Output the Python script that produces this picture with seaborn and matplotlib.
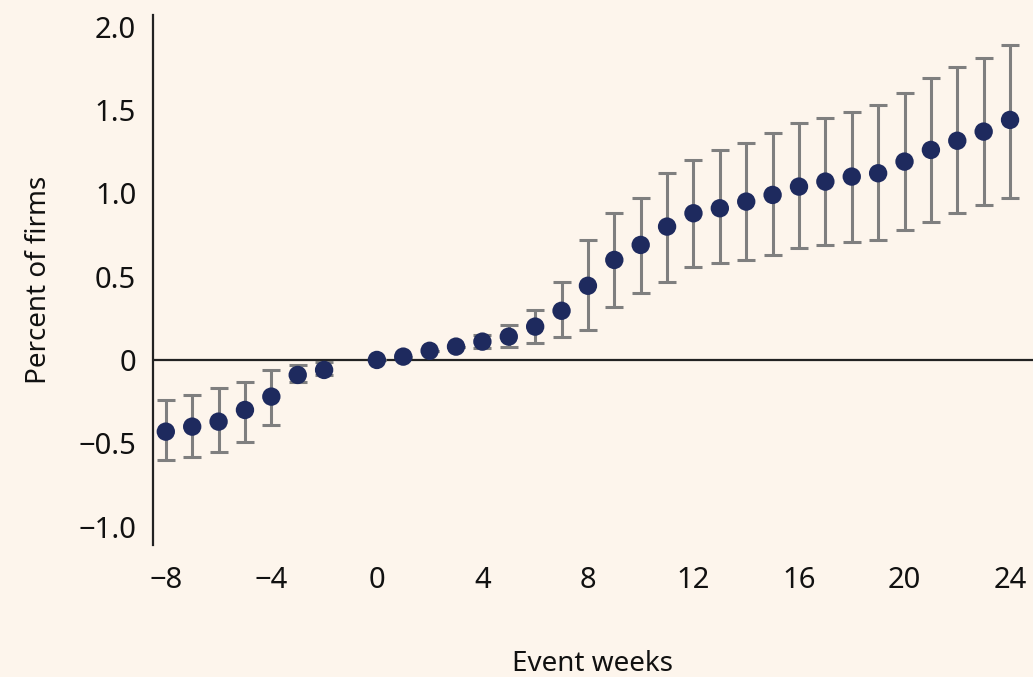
import numpy as np
import pandas as pd
import matplotlib
matplotlib.use("Agg")
import matplotlib.pyplot as plt
import seaborn as sns

# Data
weeks = [-8, -7, -6, -5, -4, -3, -2, 0, 1, 2, 3, 4, 5, 6, 7, 8, 9, 10, 11, 12,
         13, 14, 15, 16, 17, 18, 19, 20, 21, 22, 23, 24]
estimate = [-0.43, -0.40, -0.37, -0.30, -0.22, -0.09, -0.06, 0.00, 0.02, 0.055,
            0.08, 0.11, 0.14, 0.20, 0.295, 0.445, 0.60, 0.69, 0.80, 0.88,
            0.91, 0.95, 0.99, 1.04, 1.07, 1.10, 1.12, 1.19, 1.26, 1.315,
            1.37, 1.44]
upper = [-0.24, -0.21, -0.17, -0.13, -0.06, -0.03, -0.01, 0.00, 0.02, 0.055,
         0.08, 0.15, 0.21, 0.30, 0.47, 0.72, 0.88, 0.97, 1.12, 1.20,
         1.26, 1.30, 1.36, 1.42, 1.45, 1.49, 1.53, 1.60, 1.69, 1.76,
         1.81, 1.89]
lower = [-0.60, -0.58, -0.55, -0.49, -0.39, -0.13, -0.09, 0.00, 0.02, 0.055,
         0.08, 0.07, 0.08, 0.10, 0.14, 0.18, 0.315, 0.40, 0.47, 0.56,
         0.58, 0.60, 0.63, 0.67, 0.69, 0.71, 0.72, 0.78, 0.83, 0.88,
         0.93, 0.97]

x_ticks = [-8, -4, 0, 4, 8, 12, 16, 20, 24]
x_ticklabels = ["\u22128", "\u22124", "0", "4", "8", "12", "16", "20", "24"]
y_ticks = [2.0, 1.5, 1.0, 0.5, 0.0, -0.5, -1.0]
y_ticklabels = ["2.0", "1.5", "1.0", "0.5", "0", "\u22120.5", "\u22121.0"]

df = pd.DataFrame({"week": weeks, "est": estimate, "hi": upper, "lo": lower})

BG = "#FDF5EC"
NAVY = "#1E2A5E"
GRAY = "#7F7F7F"

sns.set_theme(style="white")
plt.rcParams["font.family"] = ["Noto Sans", "DejaVu Sans"]

fig = plt.figure(figsize=(10.33, 6.77), dpi=100, facecolor=BG)
ax = fig.add_axes([0.148, 0.195, 0.852, 0.783])
ax.set_facecolor(BG)

ax.axhline(0, color="#222222", lw=1.6, zorder=1)

yerr = np.vstack([df["est"] - df["lo"], df["hi"] - df["est"]])
ax.errorbar(df["week"], df["est"], yerr=yerr, fmt="none", ecolor=GRAY,
            elinewidth=2.2, capsize=6.5, capthick=2.2, zorder=2)

sns.scatterplot(data=df, x="week", y="est", ax=ax, color=NAVY, s=175,
                edgecolor="none", zorder=3, legend=False)

ax.set_xlim(-8.49, 24.87)
ax.set_ylim(-1.11, 2.07)
ax.set_xticks(x_ticks)
ax.set_xticklabels(x_ticklabels)
ax.set_yticks(y_ticks)
ax.set_yticklabels(y_ticklabels)
ax.tick_params(axis="both", length=0, labelsize=21, colors="#111111")
ax.tick_params(axis="x", pad=15)
ax.tick_params(axis="y", pad=12)

for s in ["top", "right", "bottom"]:
    ax.spines[s].set_visible(False)
ax.spines["left"].set_color("#222222")
ax.spines["left"].set_linewidth(1.6)

ax.set_xlabel("Event weeks", fontsize=20, color="#111111", labelpad=40)
ax.set_ylabel("Percent of firms", fontsize=20, color="#111111", labelpad=18)

fig.savefig("out.png", dpi=100, facecolor=BG)
